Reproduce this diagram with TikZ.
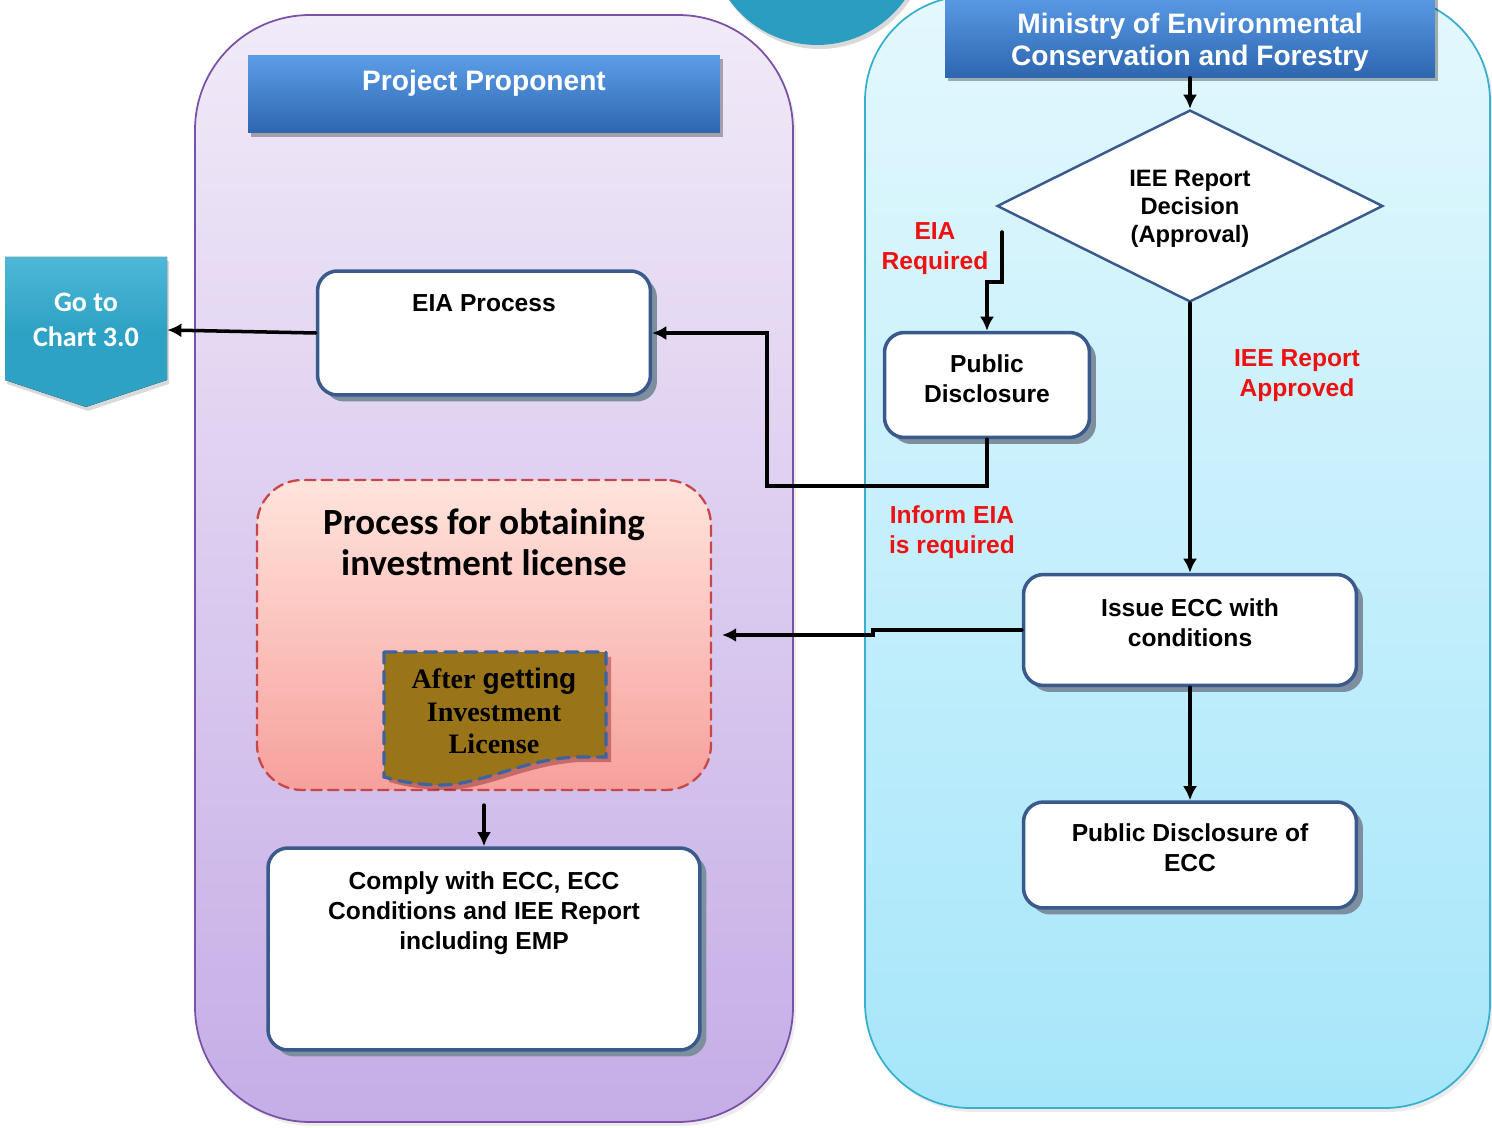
\documentclass[tikz,border=0pt]{standalone}
\usepackage{fontspec}
\setmainfont{Liberation Sans}
\newfontfamily\calfont{Carlito}
\newfontfamily\timesfont{Liberation Serif}
\usetikzlibrary{positioning,shapes.geometric,shadows,arrows.meta}

\definecolor{lanepurple}{HTML}{7A50A8}
\definecolor{lanetopl}{HTML}{F1EAF8}
\definecolor{lanebotl}{HTML}{C5ADE6}
\definecolor{laneblue}{HTML}{39AFCF}
\definecolor{lanetopr}{HTML}{E3F8FD}
\definecolor{lanebotr}{HTML}{A6E6FA}
\definecolor{headtop}{HTML}{5C9DE8}
\definecolor{headbot}{HTML}{2E66B0}
\definecolor{boxline}{HTML}{3A5A8C}
\definecolor{shadowgray}{HTML}{7D8E9E}
\definecolor{labelred}{HTML}{EE1111}
\definecolor{procred}{HTML}{C8464A}
\definecolor{proctop}{HTML}{FFE4DC}
\definecolor{procbot}{HTML}{F7A09C}
\definecolor{docfill}{HTML}{9A7418}
\definecolor{docline}{HTML}{3D64A0}
\definecolor{tealc}{HTML}{2A9DC0}
\definecolor{gotofill}{HTML}{2EA2C4}
\definecolor{gototop}{HTML}{4DB8D6}

\begin{document}
\begin{tikzpicture}[x=0.02cm,y=-0.02cm,cap=round,>={Latex[length=8pt,width=8pt]},
    box/.style={draw=boxline,line width=2pt,fill=white,rounded corners=0.4cm,
      drop shadow={shadow xshift=0.13cm,shadow yshift=-0.13cm,fill=shadowgray,opacity=1}},
    boxtext/.style={font=\bfseries\fontsize{14}{17}\selectfont,align=center},
    headtext/.style={font=\bfseries\fontsize{16}{18}\selectfont,text=white,align=center},
    header/.style={top color=headtop,bottom color=headbot,
      drop shadow={shadow xshift=0.06cm,shadow yshift=-0.08cm,fill=black,opacity=0.3}},
    redtext/.style={font=\bfseries\fontsize{14}{17}\selectfont,text=labelred,align=center},
    flow/.style={->,line width=2pt}]
    \useasboundingbox (0,0) rectangle (1492,1128);
    \clip (0,0) rectangle (1492,1128);

    % draw the two lanes and the round tab
    \fill[tealc,drop shadow={shadow xshift=0.05cm,shadow yshift=-0.08cm,opacity=0.3}] (817,-63) circle (2.16cm);
    \draw[lanepurple,line width=1pt,top color=lanetopl,bottom color=lanebotl,rounded corners=2.3cm,
      drop shadow={shadow xshift=0.06cm,shadow yshift=-0.08cm,opacity=0.15}]
      (195,15) rectangle (793,1122);
    \draw[laneblue,line width=1pt,top color=lanetopr,bottom color=lanebotr,rounded corners=2.1cm,
      drop shadow={shadow xshift=0.06cm,shadow yshift=-0.08cm,opacity=0.15}]
      (865,-4) rectangle (1490,1108);

    % draw the lane headers
    \node[header,minimum width=9.44cm,minimum height=1.56cm] (pp) at (484,94) {};
    \node[headtext] (pptext) at (484,83) {Project Proponent};
    \node[header,minimum width=9.8cm,minimum height=1.7cm] (min) at (1190,35) {};
    \node[headtext] (mintext) at (1190,42) {Ministry of Environmental\\Conservation and Forestry};

    % draw the decision
    \node[diamond,draw=boxline,line width=1.4pt,fill=white,aspect=2,
      minimum width=7.72cm,minimum height=3.84cm,inner sep=0pt] (dec) at (1190,206) {};
    \node[font=\bfseries\fontsize{13.5}{16}\selectfont,align=center] (dectext) at (1190,209)
      {IEE Report\\Decision\\(Approval)};

    % draw the boxes, the text sits near the top
    \node[box,minimum width=6.66cm,minimum height=2.48cm] (eia) at (484,333) {};
    \node[boxtext] (eiatext) at (484,303) {EIA Process};
    \node[box,minimum width=4.1cm,minimum height=2.1cm] (pd) at (987,385) {};
    \node[boxtext] (pdtext) at (987,379) {Public\\Disclosure};
    \node[box,minimum width=6.66cm,minimum height=2.22cm] (issue) at (1190,630) {};
    \node[boxtext] (issuetext) at (1190,623) {Issue ECC with\\conditions};
    \node[box,minimum width=6.66cm,minimum height=2.12cm] (pdecc) at (1190,855) {};
    \node[boxtext] (pdecctext) at (1190,848) {Public Disclosure of\\ECC};
    \node[box,minimum width=8.64cm,minimum height=4.04cm] (comply) at (484,949) {};
    \node[boxtext] (complytext) at (484,913) {Comply with ECC, ECC\\Conditions and IEE Report\\including EMP};

    % draw the investment license process
    \node[draw=procred,line width=1.3pt,dash pattern=on 6pt off 3.5pt,rounded corners=0.9cm,
      top color=proctop,bottom color=procbot,minimum width=9.08cm,minimum height=6.2cm] (proc) at (484,635) {};
    \node[font=\calfont\bfseries\fontsize{21}{23}\selectfont,align=center] (proctext) at (484,542)
      {Process for obtaining\\investment license};
    \draw[docline,line width=1.8pt,dash pattern=on 7pt off 4.5pt,fill=docfill,
      drop shadow={shadow xshift=0.1cm,shadow yshift=-0.1cm,fill=black!60!red,opacity=0.35}]
      (384,652) -- (606,652) -- (606,757) -- (575,757)
      .. controls (520,760) and (480,786) .. (437,785)
      .. controls (410,784) and (395,780) .. (384,777) -- cycle;
    \node[font=\timesfont\bfseries\fontsize{16}{18.7}\selectfont,align=center] (doc) at (494,711)
      {After {\rmfamily getting}\\Investment\\License};

    % draw the off page link
    \fill[top color=gototop,bottom color=gotofill,middle color=gotofill,
      drop shadow={shadow xshift=0.04cm,shadow yshift=-0.08cm,opacity=0.3}]
      (5,257) -- (167,257) -- (167,380) -- (86,407) -- (5,380) -- cycle;
    \node[minimum width=3.24cm,minimum height=2cm,inner sep=0pt] (goto) at (86,330) {};
    \node[font=\calfont\bfseries\fontsize{16}{20}\selectfont,text=white,align=center] (gototext) at (86,320)
      {Go to\\Chart 3.0};

    % draw the connectors
    \draw[flow] (min.south) -- (dec.north);
    \draw[flow] (dec.south) -- (issue.north);
    \coordinate (eiareq) at (1002,232);
    \draw[flow] (eiareq) -- (1002,282) -| (pd.north);
    \draw[flow] (pd.south) |- (767,486) |- (eia.east);
    \draw[flow] (eia.west) -- (goto.east);
    \draw[flow,shorten >=0.2cm] (issue.west) -- (873,630) |- (proc.east);
    \draw[flow,shorten <=0.28cm] (proc.south) -- (comply.north);
    \draw[flow] (issue.south) -- (pdecc.north);

    % draw the red labels
    \node[redtext] (lbreq) at (935,249) {EIA\\Required};
    \node[redtext] (lbappr) at (1297,376) {IEE Report\\Approved};
    \node[redtext] (lbinf) at (952,532) {Inform EIA\\is required};
  \end{tikzpicture}
\end{document}
